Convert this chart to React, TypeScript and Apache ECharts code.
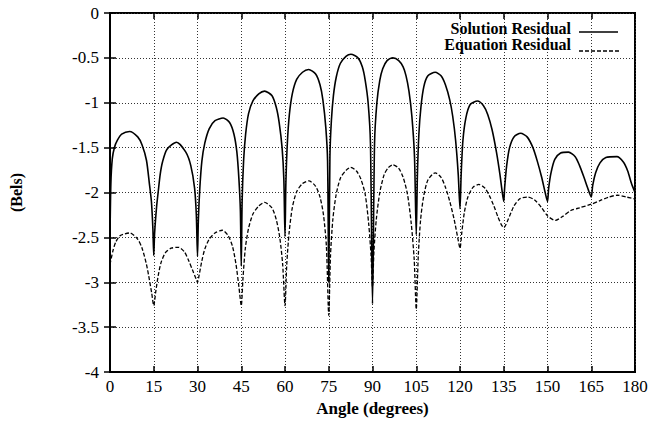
import React, { useEffect, useRef } from "react";
import * as echarts from "echarts";

const xTicks = [0, 15, 30, 45, 60, 75, 90, 105, 120, 135, 150, 165, 180];
const yTicks = [-4, -3.5, -3, -2.5, -2, -1.5, -1, -0.5, 0];
const seriesNames = ["Solution Residual", "Equation Residual"];

const solutionAngles = [
  0, 0.3, 0.8, 1.5, 2.5, 4, 6.7, 9.5, 11, 12.5, 13.5, 14.2, 14.7, 15,
  15.3, 16, 16.5, 17.2, 18, 19.5, 22.8, 26, 27.7, 29, 29.6, 30,
  30.3, 30.8, 31.5, 32.5, 34, 36, 38.8, 41, 42.5, 43.5, 44.2, 44.7, 45,
  45.3, 45.8, 46.5, 47.5, 49, 51, 53, 55.5, 57, 58, 59, 59.6, 60,
  60.3, 60.8, 61.5, 62.5, 64, 66, 68.1, 70.5, 72, 73, 74, 74.6, 75,
  75.4, 75.9, 76.6, 77.6, 79, 81, 82.6, 85, 86.5, 87.5, 88.5, 89.3, 90,
  90.7, 91.5, 92.5, 93.5, 95, 97, 99, 100.5, 101.5, 102.5, 103.5, 104.4, 105,
  105.4, 105.9, 106.6, 107.6, 109, 111.5, 113.5, 115, 116.5, 117.5, 118.5, 119.4, 120,
  120.4, 121, 122, 123.5, 126, 128, 129.5, 131, 132.5, 133.7, 134.5, 135,
  135.3, 136, 137, 138.5, 140.8, 143, 145, 146.5, 148, 149.2, 150,
  150.4, 151.2, 152.5, 154.5, 157.2, 159.5, 161, 162.5, 164, 165,
  165.5, 166.5, 168, 170, 173.8, 176, 177.5, 178.8, 180,
];
const solutionValues = [
  -2.5, -1.9, -1.62, -1.5, -1.42, -1.35, -1.32, -1.38, -1.47, -1.64, -1.9, -2.1, -2.4, -2.7,
  -2.45, -2.15, -2.0, -1.8, -1.66, -1.52, -1.44, -1.55, -1.7, -1.95, -2.25, -2.71,
  -2.3, -1.95, -1.65, -1.45, -1.29, -1.2, -1.17, -1.22, -1.35, -1.55, -1.85, -2.2, -2.82,
  -2.1, -1.65, -1.35, -1.12, -0.98, -0.9, -0.87, -0.92, -1.05, -1.22, -1.5, -1.85, -2.49,
  -1.9, -1.45, -1.13, -0.9, -0.74, -0.66, -0.63, -0.68, -0.8, -0.97, -1.28, -1.65, -3.0,
  -1.6, -1.2, -0.92, -0.71, -0.56, -0.48, -0.46, -0.5, -0.6, -0.75, -1.0, -1.45, -3.24,
  -1.45, -1.0, -0.75, -0.62, -0.53, -0.5, -0.53, -0.6, -0.7, -0.87, -1.15, -1.6, -2.47,
  -1.8, -1.35, -1.05, -0.82, -0.7, -0.66, -0.7, -0.8, -0.97, -1.15, -1.42, -1.8, -2.18,
  -1.8, -1.42, -1.17, -1.02, -0.98, -1.03, -1.13, -1.3, -1.55, -1.8, -2.0, -2.1,
  -1.95, -1.7, -1.5, -1.38, -1.34, -1.38, -1.5, -1.65, -1.83, -2.0, -2.1,
  -1.95, -1.78, -1.63, -1.56, -1.55, -1.6, -1.7, -1.83, -1.97, -2.05,
  -1.92, -1.78, -1.67, -1.61, -1.6, -1.66, -1.76, -1.9, -2.0,
];

const equationAngles = [
  0, 1, 2, 3.5, 6.8, 9.5, 11, 12.5, 13.5, 14.3, 15,
  15.7, 16.5, 17.5, 19, 21, 23.5, 25.5, 27, 28.5, 29.5, 30,
  30.5, 31.5, 32.5, 34, 36, 38.5, 40.5, 42, 43.2, 44.2, 45,
  45.6, 46.4, 47.5, 49, 51, 53, 55.5, 57, 58.2, 59.2, 60,
  60.6, 61.4, 62.5, 64, 66, 68.2, 70.5, 72, 73.2, 74.2, 75,
  75.6, 76.4, 77.5, 79, 81, 82.5, 84.5, 86, 87.5, 88.7, 89.5, 90,
  90.5, 91.3, 92.5, 94, 95.5, 97, 99, 100.5, 102, 103.3, 104.3, 105,
  105.7, 106.5, 107.5, 109, 111.5, 113.5, 115, 116.5, 118, 119.2, 120,
  120.6, 121.5, 122.7, 124.5, 126.5, 128.5, 130, 131.5, 133, 134.2, 135,
  136.5, 138.5, 140.5, 143, 145.5, 148, 150, 152.7, 155, 158, 161, 165, 168, 171, 174, 177, 180,
];
const equationValues = [
  -2.8, -2.65, -2.55, -2.48, -2.45, -2.52, -2.62, -2.8, -2.97, -3.12, -3.26,
  -3.1, -2.93, -2.78, -2.67, -2.62, -2.61, -2.66, -2.76, -2.88, -2.96, -3.0,
  -2.93, -2.76, -2.63, -2.52, -2.45, -2.42, -2.48, -2.6, -2.8, -3.05, -3.26,
  -2.95, -2.62, -2.4, -2.24, -2.15, -2.11, -2.17, -2.3, -2.5, -2.8, -3.26,
  -2.8, -2.45, -2.17, -1.99, -1.9, -1.87, -1.93, -2.05, -2.25, -2.6, -3.37,
  -2.7, -2.3, -2.03, -1.84, -1.75, -1.72, -1.76, -1.85, -2.02, -2.35, -2.7, -3.05,
  -2.65, -2.3, -2.0, -1.8, -1.72, -1.69, -1.73, -1.83, -2.02, -2.35, -2.75, -3.3,
  -2.7, -2.3, -2.05, -1.86, -1.78, -1.83, -1.94, -2.1, -2.3, -2.5, -2.62,
  -2.45, -2.22, -2.05, -1.94, -1.91, -1.95, -2.03, -2.14, -2.27, -2.36, -2.39,
  -2.3, -2.15, -2.07, -2.05, -2.08, -2.17, -2.26, -2.31, -2.27, -2.2, -2.17, -2.13, -2.09, -2.05, -2.03, -2.05, -2.07,
];

const FONT = "'Liberation Serif', 'Times New Roman', serif";

export default function App() {
  const ref = useRef<HTMLDivElement>(null);
  useEffect(() => {
    if (!ref.current) return;
    const chart = echarts.init(ref.current, undefined, { renderer: "svg" });
    const xMin = xTicks[0];
    const xMax = xTicks[xTicks.length - 1];
    const xInt = xTicks[1] - xTicks[0];
    const yMin = yTicks[0];
    const yMax = yTicks[yTicks.length - 1];
    const yInt = yTicks[1] - yTicks[0];
    const gridLine = { show: true, lineStyle: { color: "#333", type: [1, 2] as any, width: 1 } };
    const tick = { show: true, inside: true, length: 6, lineStyle: { color: "#000", width: 1.5 } };
    const labelStyle = { color: "#000", fontFamily: FONT, fontSize: 17 };
    const legendText = { fill: "#000", fontFamily: FONT, fontSize: 16, fontWeight: "bold", textAlign: "right", textVerticalAlign: "middle" };
    chart.setOption({
      animation: false,
      backgroundColor: "#fff",
      grid: {
        left: 107,
        right: 18,
        top: 13,
        bottom: 47,
        show: true,
        borderColor: "#000",
        borderWidth: 2,
        containLabel: false,
      },
      graphic: [
        { type: "text", x: 571, y: 28, style: { ...legendText, text: seriesNames[0] } },
        { type: "text", x: 571, y: 44, style: { ...legendText, text: seriesNames[1] } },
        { type: "line", shape: { x1: 579, y1: 32, x2: 618, y2: 32 }, style: { stroke: "#000", lineWidth: 1.6 } },
        { type: "line", shape: { x1: 579, y1: 51, x2: 620, y2: 51 }, style: { stroke: "#000", lineWidth: 1.3, lineDash: [4, 2] } },
      ],
      xAxis: [
        {
          type: "value",
          min: xMin,
          max: xMax,
          interval: xInt,
          name: "Angle (degrees)",
          nameLocation: "middle",
          nameGap: 22,
          nameTextStyle: { color: "#000", fontFamily: FONT, fontSize: 17, fontWeight: "bold" },
          axisLine: { show: true, onZero: false, lineStyle: { color: "#000", width: 2 } },
          axisTick: tick,
          axisLabel: { ...labelStyle, margin: 6 },
          splitLine: gridLine,
        },
        {
          type: "value",
          position: "top",
          min: xMin,
          max: xMax,
          interval: xInt,
          axisLine: { show: false },
          axisTick: tick,
          axisLabel: { show: false },
          splitLine: { show: false },
        },
      ],
      yAxis: [
        {
          type: "value",
          min: yMin,
          max: yMax,
          interval: yInt,
          name: "(Bels)",
          nameLocation: "middle",
          nameRotate: 90,
          nameGap: 86,
          nameTextStyle: { color: "#000", fontFamily: FONT, fontSize: 16, fontWeight: "bold" },
          axisLine: { show: true, onZero: false, lineStyle: { color: "#000", width: 2 } },
          axisTick: tick,
          axisLabel: { ...labelStyle, margin: 11 },
          splitLine: gridLine,
        },
        {
          type: "value",
          position: "right",
          min: yMin,
          max: yMax,
          interval: yInt,
          axisLine: { show: false },
          axisTick: tick,
          axisLabel: { show: false },
          splitLine: { show: false },
        },
      ],
      series: [
        {
          name: seriesNames[0],
          type: "line",
          data: solutionAngles.map((a, i) => [a, solutionValues[i]]),
          symbol: "none",
          smooth: 0.25,
          lineStyle: { color: "#000", width: 1.6, type: "solid" },
          itemStyle: { color: "#000" },
        },
        {
          name: seriesNames[1],
          type: "line",
          data: equationAngles.map((a, i) => [a, equationValues[i]]),
          symbol: "none",
          smooth: 0.25,
          lineStyle: { color: "#000", width: 1.3, type: [4, 2] },
          itemStyle: { color: "#000" },
        },
      ],
    });
    return () => chart.dispose();
  }, []);
  return <div ref={ref} style={{ width: 653, height: 422, position: "absolute", left: 0, top: 0 }} />;
}
